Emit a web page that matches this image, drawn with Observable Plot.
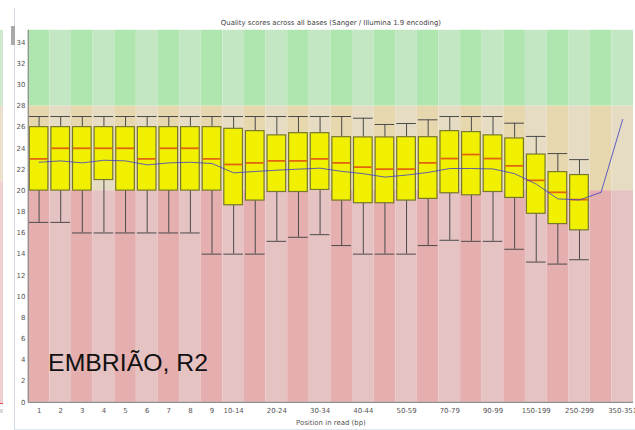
<!DOCTYPE html>
<html>
<head>
<meta charset="utf-8">
<script src="https://cdn.jsdelivr.net/npm/d3@7"></script>
<script src="https://cdn.jsdelivr.net/npm/@observablehq/plot@0.6"></script>
<style>
  html, body { margin: 0; padding: 0; background: #fff; overflow: hidden; }
  #wrap { position: relative; width: 635px; height: 430px; overflow: hidden; }
  #chart { position: absolute; left: 0; top: 0; }
  .edge { position: absolute; }
</style>
</head>
<body>
<div id="wrap">
  <div id="chart"></div>
  <!-- window chrome at the left edge -->
  <div class="edge" style="left:0;top:30px;width:3px;height:76px;background:#cfe9cf"></div>
  <div class="edge" style="left:0;top:106px;width:3px;height:76px;background:#ebe0cc"></div>
  <div class="edge" style="left:0;top:182px;width:3px;height:221px;background:#efcfcf"></div>
  <div class="edge" style="left:0;top:403px;width:3px;height:1px;background:#e05050"></div>
  <div class="edge" style="left:0;top:409px;width:3px;height:4px;background:#d8d8d8"></div>
  <div class="edge" style="left:14px;top:8px;width:1px;height:422px;background:#d5dbe2"></div>
  <div class="edge" style="left:11px;top:26px;width:4px;height:19px;background:#a9a9a9"></div>
  <div class="edge" style="left:14px;top:429px;width:621px;height:1px;background:#dde6ee"></div>
</div>
<script>
// Read positions (bp), grouped the way FastQC bins them
const categories = [
  "1", "2", "3", "4", "5", "6", "7", "8", "9",
  "10-14", "15-19", "20-24", "25-29", "30-34", "35-39", "40-44", "45-49",
  "50-59", "60-69", "70-79", "80-89", "90-99",
  "100-149", "150-199", "200-249", "250-299", "300-349", "350-351"
];

// Box statistics per position (Phred quality); null where no box is drawn
const whiskerHigh = [27, 27, 27, 27, 27, 27, 27, 27, 27,
  27, 27, 27, 27, 27, 27, 26.84, 26.25,
  26.34, 26.69, 27, 27, 27,
  26.37, 25.12, 23.5, 22.93, null, null];
const upperQuartile = [26, 26, 26, 26, 26, 26, 26, 26, 26,
  25.84, 25.62, 25.22, 25.43, 25.43, 25.05, 25.03, 25.03,
  25.05, 25.05, 25.62, 25.53, 25.22,
  24.93, 23.41, 21.75, 21.47, null, null];
const median = [23, 24, 24, 24, 24, 23, 24, 24, 23,
  22.47, 22.62, 22.81, 22.81, 23.0, 22.62, 22.22, 22.03,
  22.03, 22.62, 23.03, 23.41, 23.03,
  22.34, 20.97, 19.84, 19.15, null, null];
const lowerQuartile = [20, 20, 20, 21, 20, 20, 20, 20, 20,
  18.62, 19.06, 19.87, 19.87, 20.06, 19.06, 18.81, 18.81,
  19.06, 19.22, 19.75, 19.56, 19.87,
  19.31, 17.81, 16.84, 16.25, null, null];
const whiskerLow = [17, 17, 16, 16, 16, 16, 16, 16, 14,
  14, 14, 15.21, 15.59, 15.84, 14.81, 14.0, 14.0,
  14.0, 14.81, 15.31, 15.21, 15.21,
  14.46, 13.25, 13.06, 13.47, null, null];
const mean = [22.68, 22.81, 22.62, 22.87, 22.81, 22.43, 22.62, 22.68, 22.56,
  21.68, 21.81, 21.93, 22.03, 22.12, 21.82, 21.6, 21.28,
  21.47, 21.72, 22.09, 22.09, 22.05,
  21.6, 20.62, 19.22, 19.12, 19.84, 26.72];

// Quality zones: poor / reasonable / good
const zoneBreaks = [0, 20, 28, 35.15];
const zoneNames = ["poor", "reasonable", "good"];

const yTicks = [0, 2, 4, 6, 8, 10, 12, 14, 16, 18, 20, 22, 24, 26, 28, 30, 32, 34];
const xTickLabels = ["1", "2", "3", "4", "5", "6", "7", "8", "9",
  "10-14", "20-24", "30-34", "40-44", "50-59", "70-79", "90-99",
  "150-199", "250-299", "350-351"];

const title = "Quality scores across all bases (Sanger / Illumina 1.9 encoding)";
const xLabel = "Position in read (bp)";
const annotation = "EMBRIÃO, R2";

// Alternating stripe colours for each zone (dark, light)
const zoneColors = {
  good: ["#afe6af", "#c3e6c3"],
  reasonable: ["#e6d7af", "#e6dcc3"],
  poor: ["#e6afaf", "#e6c3c3"]
};

const zones = categories.flatMap((c, i) =>
  zoneNames.map((z, k) => ({
    pos: c, lo: zoneBreaks[k], hi: zoneBreaks[k + 1],
    color: zoneColors[z][i % 2]
  }))
);

const stats = categories.map((c, i) => ({
  pos: c, wh: whiskerHigh[i], q3: upperQuartile[i], med: median[i],
  q1: lowerQuartile[i], wl: whiskerLow[i], mean: mean[i]
}));
const boxes = stats.filter(d => d.q3 != null);

const chart = Plot.plot({
  width: 640,
  height: 430,
  marginLeft: 28,
  marginRight: 2,
  marginTop: 30,
  marginBottom: 25,
  style: { fontFamily: "DejaVu Sans, sans-serif", fontSize: "7px", color: "#555", background: "transparent" },
  color: { type: "identity" },
  x: {
    domain: categories, padding: 0, round: false, ticks: xTickLabels, tickSize: 0, tickPadding: 6,
    label: xLabel, labelAnchor: "center", labelOffset: 23
  },
  y: { domain: [zoneBreaks[0], zoneBreaks[3]], ticks: yTicks, tickSize: 0, tickPadding: 3, label: null },
  marks: [
    Plot.barY(zones, { x: "pos", y1: "lo", y2: "hi", fill: "color", inset: 0 }),
    Plot.ruleX(boxes, { x: "pos", y1: "wl", y2: "wh", stroke: "#4a4a4a", strokeWidth: 1 }),
    Plot.tickY(boxes, { x: "pos", y: "wh", stroke: "#4a4a4a", strokeWidth: 1, insetLeft: 1, insetRight: 1 }),
    Plot.tickY(boxes, { x: "pos", y: "wl", stroke: "#4a4a4a", strokeWidth: 1, insetLeft: 1, insetRight: 1 }),
    Plot.barY(boxes, { x: "pos", y1: "q1", y2: "q3", fill: "#f0f000", stroke: "#77772e", strokeWidth: 1.2, insetLeft: 1.5, insetRight: 1.5 }),
    Plot.tickY(boxes, { x: "pos", y: "med", stroke: "#e2660c", strokeWidth: 1.8, insetLeft: 2, insetRight: 2 }),
    Plot.line(stats, { x: "pos", y: "mean", stroke: "#4646c4", strokeWidth: 1, strokeOpacity: 0.85, curve: "linear" }),
    Plot.ruleY([zoneBreaks[0]], { stroke: "#8c8c8c", strokeWidth: 1.2 }),
    Plot.text([title], { frameAnchor: "top", dy: -8, lineAnchor: "middle", fontSize: 7, fill: "#444" }),
    Plot.text([annotation], {
      frameAnchor: "bottom-left", textAnchor: "start", lineAnchor: "bottom",
      dx: 20, dy: -32, fontSize: 25, fontFamily: "Liberation Sans, Arial, sans-serif", fill: "#111"
    })
  ]
});

document.getElementById("chart").appendChild(chart);

// vertical axis line along the left edge of the plotting area
const xr = chart.scale("x").range;
const yr = chart.scale("y").range;
d3.select(chart).append("line")
  .attr("x1", xr[0] + 0.5).attr("x2", xr[0] + 0.5)
  .attr("y1", yr[1]).attr("y2", yr[0])
  .attr("stroke", "#8c8c8c").attr("stroke-width", 1.2);
</script>
</body>
</html>
